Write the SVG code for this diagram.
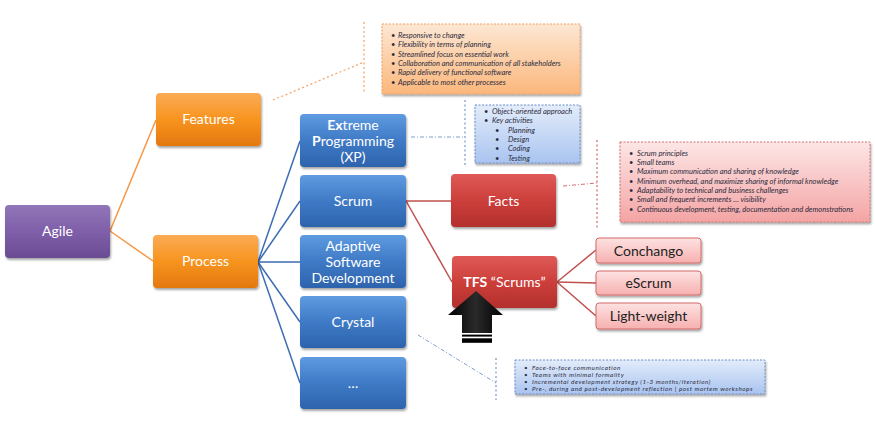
<svg xmlns="http://www.w3.org/2000/svg" width="875" height="430" viewBox="0 0 875 430">
<defs>
<linearGradient id="gOr" x1="0" y1="0" x2="0" y2="1"><stop offset="0" stop-color="#fbab55"/><stop offset="0.5" stop-color="#f7941f"/><stop offset="1" stop-color="#e3780f"/></linearGradient>
<linearGradient id="gPu" x1="0" y1="0" x2="0" y2="1"><stop offset="0" stop-color="#9176b8"/><stop offset="0.5" stop-color="#7f5fa9"/><stop offset="1" stop-color="#6a4c93"/></linearGradient>
<linearGradient id="gBl" x1="0" y1="0" x2="0" y2="1"><stop offset="0" stop-color="#5e9be0"/><stop offset="0.5" stop-color="#3f7ac6"/><stop offset="1" stop-color="#2d63ad"/></linearGradient>
<linearGradient id="gRd" x1="0" y1="0" x2="0" y2="1"><stop offset="0" stop-color="#df5a57"/><stop offset="0.5" stop-color="#cc3f3b"/><stop offset="1" stop-color="#b3302d"/></linearGradient>
<linearGradient id="gPk" x1="0" y1="0" x2="0" y2="1"><stop offset="0" stop-color="#fde2e2"/><stop offset="1" stop-color="#f7b0b0"/></linearGradient>
<linearGradient id="cOr" x1="0" y1="0" x2="0" y2="1"><stop offset="0" stop-color="#fde7d3"/><stop offset="1" stop-color="#fbb77c"/></linearGradient>
<linearGradient id="cBl" x1="0" y1="0" x2="0" y2="1"><stop offset="0" stop-color="#e3ecfa"/><stop offset="1" stop-color="#a9c4f0"/></linearGradient>
<linearGradient id="cRd" x1="0" y1="0" x2="0" y2="1"><stop offset="0" stop-color="#fde6e6"/><stop offset="1" stop-color="#f4a4a4"/></linearGradient>
<linearGradient id="gAr" x1="0" y1="0" x2="1" y2="0"><stop offset="0" stop-color="#000"/><stop offset="0.5" stop-color="#2a2a2a"/><stop offset="1" stop-color="#000"/></linearGradient>
<filter id="sh" x="-10%" y="-10%" width="130%" height="140%"><feDropShadow dx="1" dy="2" stdDeviation="1.2" flood-color="#000" flood-opacity="0.35"/></filter>
</defs>
<style>
.node rect{filter:url(#sh)}
.lbl{font-family:Lato,"Noto Sans",sans-serif;font-size:14px;fill:#fff;text-anchor:middle}
.dk{fill:#222}
.ct{font-family:Lato,"Noto Sans",sans-serif;font-style:italic;font-size:7.5px;fill:#2b2b3d}
.ctS{font-size:6.3px;letter-spacing:0.55px}
.cb{stroke-width:1;stroke-dasharray:2,1.5}
.dl{fill:none;stroke-width:1.3;stroke-dasharray:2,2.5}
.dd{fill:none;stroke-width:1;stroke-dasharray:4,2,1,2}
</style>

<g id="connectors" fill="none">
<g stroke="#f79646" stroke-width="1.5">
<line x1="110" y1="231" x2="156" y2="120"/>
<line x1="110" y1="231" x2="153" y2="261"/>
</g>
<g stroke="#3d6db5" stroke-width="1.5">
<line x1="258" y1="262" x2="300" y2="141"/>
<line x1="258" y1="262" x2="300" y2="201"/>
<line x1="258" y1="262" x2="300" y2="262"/>
<line x1="258" y1="262" x2="300" y2="322"/>
<line x1="258" y1="262" x2="300" y2="383"/>
</g>
<g stroke="#c0504d" stroke-width="1.5">
<line x1="406" y1="201" x2="451" y2="201"/>
<line x1="406" y1="201" x2="452" y2="282"/>
<line x1="557" y1="282" x2="596" y2="250"/>
<line x1="557" y1="282" x2="596" y2="283"/>
<line x1="557" y1="282" x2="596" y2="316"/>
</g>
<g id="callout-links">
<polyline class="dl" stroke="#f7a56a" points="273,100 364,62"/>
<line class="dl" stroke="#f7a56a" x1="364" y1="22" x2="364" y2="94"/>
<line class="dd" stroke="#7f9fcf" x1="411" y1="137" x2="465" y2="137"/>
<line class="dl" stroke="#7f9fcf" x1="465" y1="100" x2="465" y2="165"/>
<line class="dd" stroke="#d07070" x1="563" y1="186" x2="597" y2="183"/>
<line class="dl" stroke="#d07070" x1="597" y1="140" x2="597" y2="228"/>
<line class="dd" stroke="#7f9fcf" x1="418" y1="335" x2="496" y2="383"/>
<line class="dl" stroke="#7f9fcf" x1="496" y1="358" x2="496" y2="400"/>
</g>
</g>

<g id="agile" class="node"><rect x="5" y="205" width="105" height="53" rx="4" fill="url(#gPu)"/><text class="lbl" x="57.5" y="236">Agile</text></g>
<g id="features" class="node"><rect x="156" y="93" width="105" height="53" rx="4" fill="url(#gOr)"/><text class="lbl" x="208.5" y="124">Features</text></g>
<g id="process" class="node"><rect x="153" y="235" width="105" height="53" rx="4" fill="url(#gOr)"/><text class="lbl" x="205.5" y="266">Process</text></g>

<g id="xp" class="node"><rect x="300" y="114" width="106" height="53" rx="4" fill="url(#gBl)"/>
<text class="lbl" x="353" y="130"><tspan font-weight="bold">Ex</tspan>treme</text>
<text class="lbl" x="353" y="146"><tspan font-weight="bold">P</tspan>rogramming</text>
<text class="lbl" x="353" y="162">(XP)</text></g>
<g id="scrum" class="node"><rect x="300" y="175" width="106" height="52" rx="4" fill="url(#gBl)"/><text class="lbl" x="353" y="206">Scrum</text></g>
<g id="asd" class="node"><rect x="300" y="235" width="106" height="53" rx="4" fill="url(#gBl)"/>
<text class="lbl" x="353" y="251">Adaptive</text><text class="lbl" x="353" y="267">Software</text><text class="lbl" x="353" y="283">Development</text></g>
<g id="crystal" class="node"><rect x="300" y="296" width="106" height="52" rx="4" fill="url(#gBl)"/><text class="lbl" x="353" y="327">Crystal</text></g>
<g id="more" class="node"><rect x="300" y="357" width="106" height="52" rx="4" fill="url(#gBl)"/><text class="lbl" x="353" y="388">…</text></g>

<g id="facts" class="node"><rect x="451" y="174" width="105" height="53" rx="4" fill="url(#gRd)"/><text class="lbl" x="503.5" y="206">Facts</text></g>
<g id="tfs" class="node"><rect x="452" y="256" width="105" height="52" rx="4" fill="url(#gRd)"/><text class="lbl" x="504.5" y="287"><tspan font-weight="bold">TFS</tspan> “Scrums”</text></g>

<g id="conchango" class="node"><rect x="596" y="238" width="105" height="25" rx="3" fill="url(#gPk)" stroke="#d46a68" stroke-width="1"/><text class="lbl dk" x="648.5" y="255.5">Conchango</text></g>
<g id="escrum" class="node"><rect x="596" y="271" width="105" height="24" rx="3" fill="url(#gPk)" stroke="#d46a68" stroke-width="1"/><text class="lbl dk" x="648.5" y="288">eScrum</text></g>
<g id="lightweight" class="node"><rect x="596" y="303" width="105" height="26" rx="3" fill="url(#gPk)" stroke="#d46a68" stroke-width="1"/><text class="lbl dk" x="648.5" y="321">Light-weight</text></g>

<g id="arrow">
<polygon points="476,291 503,315 492,315 492,333 462,333 462,315 448,315" fill="url(#gAr)"/>
<rect x="462" y="334.6" width="30" height="2" fill="#000"/>
<rect x="462" y="338.3" width="30" height="4.5" fill="#000"/>
</g>

<g id="callout-features">
<rect x="382" y="24" width="198" height="70" fill="url(#cOr)" stroke="#f0a060" class="cb" filter="url(#sh)"/>
<g class="ct">
<text x="391" y="38">•</text><text x="398" y="38">Responsive to change</text>
<text x="391" y="47.3">•</text><text x="398" y="47.3">Flexibility in terms of planning</text>
<text x="391" y="56.6">•</text><text x="398" y="56.6">Streamlined focus on essential work</text>
<text x="391" y="65.9">•</text><text x="398" y="65.9">Collaboration and communication of all stakeholders</text>
<text x="391" y="75.2">•</text><text x="398" y="75.2">Rapid delivery of functional software</text>
<text x="391" y="84.5">•</text><text x="398" y="84.5">Applicable to most other processes</text>
</g></g>

<g id="callout-xp">
<rect x="475" y="105" width="105" height="58" fill="url(#cBl)" stroke="#6a8cc8" class="cb" filter="url(#sh)"/>
<g class="ct">
<text x="484" y="114">•</text><text x="492" y="114">Object-oriented approach</text>
<text x="484" y="123.3">•</text><text x="492" y="123.3">Key activities</text>
<text x="495" y="132.6">•</text><text x="508" y="132.6">Planning</text>
<text x="495" y="141.9">•</text><text x="508" y="141.9">Design</text>
<text x="495" y="151.2">•</text><text x="508" y="151.2">Coding</text>
<text x="495" y="160.5">•</text><text x="508" y="160.5">Testing</text>
</g></g>

<g id="callout-facts">
<rect x="620" y="142" width="250" height="80" fill="url(#cRd)" stroke="#d07070" class="cb" filter="url(#sh)"/>
<g class="ct">
<text x="629" y="155.8">•</text><text x="637" y="155.8">Scrum principles</text>
<text x="629" y="165.1">•</text><text x="637" y="165.1">Small teams</text>
<text x="629" y="174.4">•</text><text x="637" y="174.4">Maximum communication and sharing of knowledge</text>
<text x="629" y="183.7">•</text><text x="637" y="183.7">Minimum overhead, and maximize sharing of informal knowledge</text>
<text x="629" y="193">•</text><text x="637" y="193">Adaptability to technical and business challenges</text>
<text x="629" y="202.3">•</text><text x="637" y="202.3">Small and frequent increments … visibility</text>
<text x="629" y="211.6">•</text><text x="637" y="211.6">Continuous development, testing, documentation and demonstrations</text>
</g></g>

<g id="callout-crystal">
<rect x="515" y="360" width="250" height="34" fill="url(#cBl)" stroke="#6a8cc8" class="cb" filter="url(#sh)"/>
<g class="ct ctS">
<text x="524" y="369.6">•</text><text x="532" y="369.6">Face-to-face  communication</text>
<text x="524" y="376.6">•</text><text x="532" y="376.6">Teams with minimal formality</text>
<text x="524" y="383.6">•</text><text x="532" y="383.6">Incremental development strategy (1-3 months/iteration)</text>
<text x="524" y="390.6">•</text><text x="532" y="390.6">Pre-, during and post-development reflection | post mortem workshops</text>
</g></g>
</svg>
